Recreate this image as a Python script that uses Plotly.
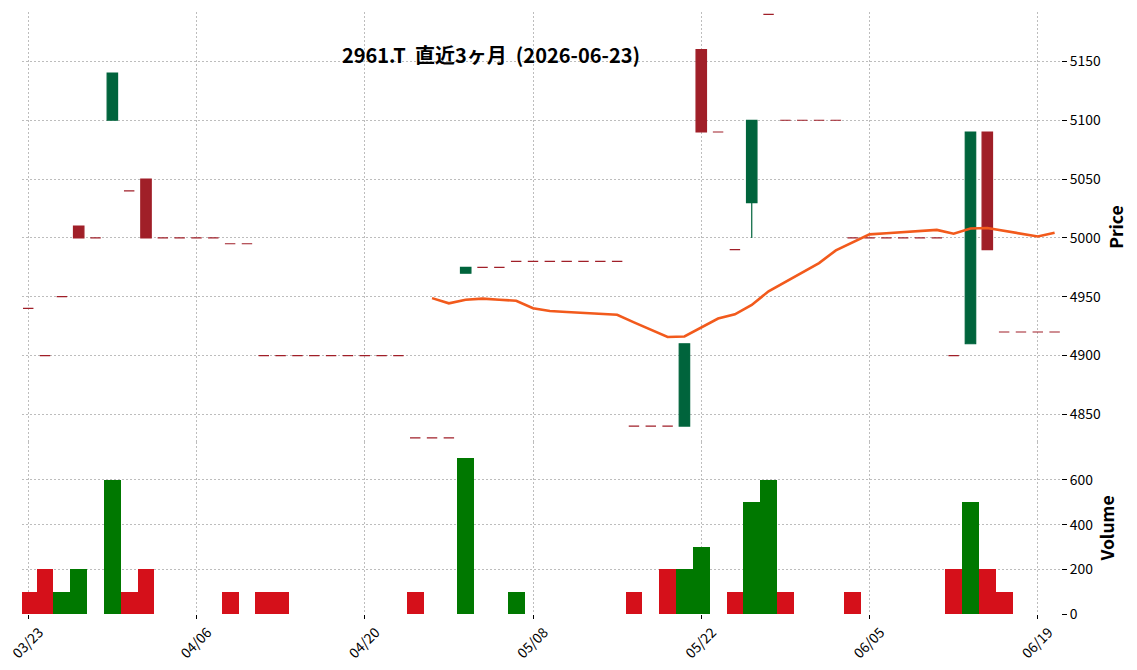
import plotly.graph_objects as go
from plotly.subplots import make_subplots

# ---------------- data ----------------
dates = [
    "2026-03-23", "2026-03-24", "2026-03-25", "2026-03-26", "2026-03-27",
    "2026-03-30", "2026-03-31", "2026-04-01", "2026-04-02", "2026-04-03",
    "2026-04-06", "2026-04-07", "2026-04-08", "2026-04-09", "2026-04-10",
    "2026-04-13", "2026-04-14", "2026-04-15", "2026-04-16", "2026-04-17",
    "2026-04-20", "2026-04-21", "2026-04-22", "2026-04-23", "2026-04-24",
    "2026-04-27", "2026-04-28", "2026-04-30", "2026-05-01",
    "2026-05-07", "2026-05-08",
    "2026-05-11", "2026-05-12", "2026-05-13", "2026-05-14", "2026-05-15",
    "2026-05-18", "2026-05-19", "2026-05-20", "2026-05-21", "2026-05-22",
    "2026-05-25", "2026-05-26", "2026-05-27", "2026-05-28", "2026-05-29",
    "2026-06-01", "2026-06-02", "2026-06-03", "2026-06-04", "2026-06-05",
    "2026-06-08", "2026-06-09", "2026-06-10", "2026-06-11", "2026-06-12",
    "2026-06-15", "2026-06-16", "2026-06-17", "2026-06-18", "2026-06-19",
    "2026-06-22",
]

closes = [4940, 4900, 4950, 5000, 5000, 5140, 5040, 5000, 5000, 5000,
          5000, 5000, 4995, 4995, 4900, 4900, 4900, 4900, 4900, 4900,
          4900, 4900, 4900, 4830, 4830, 4830, 4975, 4975, 4975, 4980,
          4980, 4980, 4980, 4980, 4980, 4980, 4840, 4840, 4840, 4910,
          5090, 5090, 4990, 5100, 5190, 5100, 5100, 5100, 5100, 5000,
          5000, 5000, 5000, 5000, 5000, 4900, 5090, 4990, 4920, 4920,
          4920, 4920]

opens = [4940, 4900, 4950, 5010, 5000, 5100, 5040, 5050, 5000, 5000,
         5000, 5000, 4995, 4995, 4900, 4900, 4900, 4900, 4900, 4900,
         4900, 4900, 4900, 4830, 4830, 4830, 4970, 4975, 4975, 4980,
         4980, 4980, 4980, 4980, 4980, 4980, 4840, 4840, 4840, 4840,
         5160, 5090, 4990, 5030, 5190, 5100, 5100, 5100, 5100, 5000,
         5000, 5000, 5000, 5000, 5000, 4900, 4910, 5090, 4920, 4920,
         4920, 4920]

highs = [4940, 4900, 4950, 5010, 5000, 5140, 5040, 5050, 5000, 5000,
         5000, 5000, 4995, 4995, 4900, 4900, 4900, 4900, 4900, 4900,
         4900, 4900, 4900, 4830, 4830, 4830, 4975, 4975, 4975, 4980,
         4980, 4980, 4980, 4980, 4980, 4980, 4840, 4840, 4840, 4910,
         5160, 5090, 4990, 5100, 5190, 5100, 5100, 5100, 5100, 5000,
         5000, 5000, 5000, 5000, 5000, 4900, 5090, 5090, 4920, 4920,
         4920, 4920]

lows = [4940, 4900, 4950, 5000, 5000, 5100, 5040, 5000, 5000, 5000,
        5000, 5000, 4995, 4995, 4900, 4900, 4900, 4900, 4900, 4900,
        4900, 4900, 4900, 4830, 4830, 4830, 4970, 4975, 4975, 4980,
        4980, 4980, 4980, 4980, 4980, 4980, 4840, 4840, 4840, 4840,
        5090, 5090, 4990, 5000, 5190, 5100, 5100, 5100, 5100, 5000,
        5000, 5000, 5000, 5000, 5000, 4900, 4910, 4990, 4920, 4920,
        4920, 4920]

volumes = [100, 200, 100, 200, 0, 600, 100, 200, 0, 0,
           0, 0, 100, 0, 100, 100, 0, 0, 0, 0,
           0, 0, 0, 100, 0, 0, 700, 0, 0, 100,
           0, 0, 0, 0, 0, 0, 100, 0, 200, 200,
           300, 0, 100, 500, 600, 100, 0, 0, 0, 100,
           0, 0, 0, 0, 0, 200, 500, 200, 100, 0,
           0, 0]

# 25-day moving average as drawn (first 24 days empty)
ma25 = [None] * 24 + [
    4948.8, 4944.4, 4947.4, 4948.4, 4947.4, 4946.6, 4940.2, 4937.8,
    4937.0, 4936.2, 4935.4, 4934.6, 4928.2, 4922.0, 4915.8, 4916.2,
    4923.8, 4931.4, 4935.0, 4943.0, 4954.6, 4962.6, 4970.6, 4978.6,
    4989.4, 4996.2, 5003.0, 5004.0, 5005.0, 5006.0, 5006.8, 5003.6,
    5008.0, 5008.4, 5006.0, 5003.6, 5001.2, 5004.4,
]

tick_dates = dates[::10]
tick_labels = [d[5:7] + "/" + d[8:10] for d in tick_dates]
title_text = "2961.T\u00a0\u00a0直近3ヶ月\u00a0\u00a0(2026-06-23)"

# ---------------- styles ----------------
FONT = "Noto Sans CJK JP, Noto Sans, sans-serif"
C_UP = "#00643c"
C_DN = "#a01f28"
V_UP = "#007800"
V_DN = "#d5101a"
C_MA = "#f25a1c"
GRID = "#bdbdbd"
GRID_DASH = "2px,2px"

up_idx = [i for i in range(len(dates)) if closes[i] > opens[i]]
dn_idx = [i for i in range(len(dates)) if closes[i] <= opens[i]]

vol_colors = []
for i in range(len(dates)):
    if i > 0 and closes[i] > closes[i - 1]:
        vol_colors.append(V_UP)
    else:
        vol_colors.append(V_DN)

fig = make_subplots(rows=2, cols=1, shared_xaxes=True, vertical_spacing=0)

def sub(lst, idx):
    return [lst[i] for i in idx]

fig.add_trace(go.Candlestick(
    x=sub(dates, dn_idx), open=sub(opens, dn_idx), high=sub(highs, dn_idx),
    low=sub(lows, dn_idx), close=sub(closes, dn_idx),
    increasing=dict(line=dict(color=C_DN, width=1.2), fillcolor=C_DN),
    decreasing=dict(line=dict(color=C_DN, width=1.2), fillcolor=C_DN),
    whiskerwidth=0, showlegend=False, hoverinfo="skip"), row=1, col=1)

fig.add_trace(go.Candlestick(
    x=sub(dates, up_idx), open=sub(opens, up_idx), high=sub(highs, up_idx),
    low=sub(lows, up_idx), close=sub(closes, up_idx),
    increasing=dict(line=dict(color=C_UP, width=1.2), fillcolor=C_UP),
    decreasing=dict(line=dict(color=C_UP, width=1.2), fillcolor=C_UP),
    whiskerwidth=0, showlegend=False, hoverinfo="skip"), row=1, col=1)

fig.add_trace(go.Scatter(
    x=dates, y=ma25, mode="lines", line=dict(color=C_MA, width=2.6),
    connectgaps=False, showlegend=False, hoverinfo="skip"), row=1, col=1)

fig.add_trace(go.Bar(
    x=dates, y=volumes, width=1.0, marker=dict(color=vol_colors, line=dict(width=0)),
    showlegend=False, hoverinfo="skip"), row=2, col=1)

W, H = 1137, 670
ML, MR, MT, MB = 22, 76, 12, 56
plot_h = H - MT - MB
split = (614 - 442) / plot_h

tickfont = dict(family=FONT, size=13.9, color="#000000")
labfont = dict(family=FONT, size=17.5, color="#000000", weight="bold")

common_x = dict(type="category", categoryorder="array", categoryarray=dates,
                range=[-0.37, 61.38], tickvals=tick_dates, ticktext=tick_labels,
                showgrid=True, gridcolor=GRID, griddash=GRID_DASH, gridwidth=0.8,
                zeroline=False, showline=False, rangeslider=dict(visible=False))

fig.update_layout(
    width=W, height=H,
    margin=dict(l=ML, r=MR, t=MT, b=MB, autoexpand=False),
    paper_bgcolor="white", plot_bgcolor="white",
    boxgap=0.38, boxgroupgap=0,
    bargap=0,
    showlegend=False,
    title=dict(text="<b>" + title_text + "</b>", x=(491 - ML) / (W - ML - MR), xref="paper",
               xanchor="center", y=1 - 56 / H, yref="container", yanchor="middle",
               font=dict(family=FONT, size=20, color="#000000")),
    xaxis=dict(**common_x, showticklabels=False, ticks=""),
    xaxis2=dict(**common_x, showticklabels=True, ticks="outside", ticklen=4,
                tickcolor="#000000", tickwidth=1, tickangle=-45, tickfont=tickfont,
                ticklabelshift=11),
    yaxis=dict(domain=[split, 1], range=[4826.5, 5192], side="right", dtick=50,
               showgrid=True, gridcolor=GRID, griddash=GRID_DASH, gridwidth=0.8,
               zeroline=False, showline=False, ticks="outside", ticklen=5,
               tickcolor="#000000", tickfont=tickfont,
               title=dict(text="Price", font=labfont, standoff=10)),
    yaxis2=dict(domain=[0, split], range=[0, 770], side="right",
                tickvals=[0, 200, 400, 600],
                showgrid=True, gridcolor=GRID, griddash=GRID_DASH, gridwidth=0.8,
                zeroline=False, showline=False, ticks="outside", ticklen=5,
                tickcolor="#000000", tickfont=tickfont,
                title=dict(text="Volume", font=labfont, standoff=9)),
)

fig.write_html("out.html")
